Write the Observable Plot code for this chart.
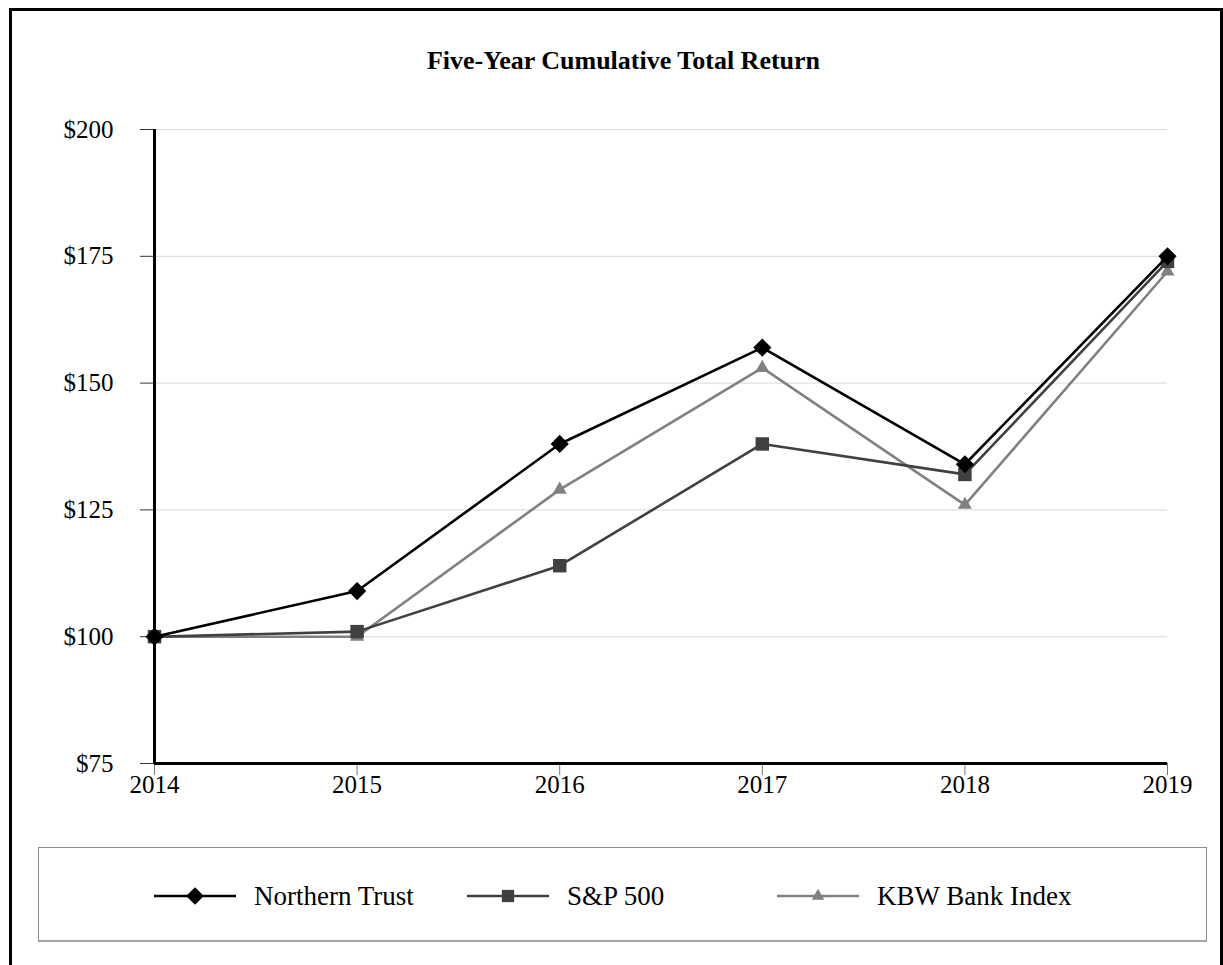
<!DOCTYPE html>
<html>
<head>
<meta charset="utf-8">
<script src="https://cdn.jsdelivr.net/npm/d3@7"></script>
<script src="https://cdn.jsdelivr.net/npm/@observablehq/plot@0.6"></script>
<style>
  html, body { margin: 0; padding: 0; background: #fff; overflow: hidden; }
  body { width: 1223px; height: 965px; position: relative; font-family: "Liberation Serif", "Times New Roman", serif; }
  #frame { position: absolute; left: 9px; top: 8px; width: 1214px; height: 980px; border: 3px solid #000; box-sizing: border-box; }
  #title { position: absolute; left: 12px; top: 46px; width: 1223px; text-align: center; font-weight: bold; font-size: 26px; color: #000; }
  #chart { position: absolute; left: 0; top: 0; }
  #legend { position: absolute; left: 38px; top: 847px; width: 1169px; height: 95px; border: 1px solid #8c8c8c; border-bottom: 2px solid #a6a6a6; box-sizing: border-box; }
  .item { position: absolute; top: 30px; height: 36px; display: flex; align-items: center; font-size: 27px; color: #000; }
  .item svg { margin-right: 18px; }
</style>
</head>
<body>
<div id="frame"></div>
<div id="title">Five-Year Cumulative Total Return</div>
<div id="chart"></div>
<div id="legend"></div>
<script>
const years = [2014, 2015, 2016, 2017, 2018, 2019];
const seriesNames = ["Northern Trust", "S&P 500", "KBW Bank Index"];
const northernTrust = [100, 109, 138, 157, 134, 175];
const sp500 = [100, 101, 114, 138, 132, 174];
const kbwBank = [100, 100, 129, 153, 126, 172];
const yTicks = [75, 100, 125, 150, 175, 200];

const colors = {"Northern Trust": "#000000", "S&P 500": "#404040", "KBW Bank Index": "#808080"};
const symbols = {"Northern Trust": "diamond2", "S&P 500": "square", "KBW Bank Index": "triangle"};
const radii = {"Northern Trust": 8.2, "S&P 500": 7.6, "KBW Bank Index": 5.2};

const valuesBySeries = {"Northern Trust": northernTrust, "S&P 500": sp500, "KBW Bank Index": kbwBank};
const table = [];
for (const s of seriesNames) {
  years.forEach((yr, i) => table.push({series: s, year: yr, value: valuesBySeries[s][i]}));
}

const drawOrder = ["KBW Bank Index", "S&P 500", "Northern Trust"];
const marks = [
  Plot.gridY(yTicks.filter(d => d > 75), {stroke: "#d9d9d9", strokeOpacity: 1, strokeWidth: 1}),
  Plot.axisY(yTicks, {tickSize: 14, tickPadding: 27, stroke: "#333", tickFormat: d => "$" + d, fontSize: 25, fill: "#000", label: null}),
  Plot.axisX(years, {tickSize: 12, tickPadding: 0, stroke: "#777", tickFormat: d => String(d), fontSize: 25, fill: "#000", label: null}),
  Plot.ruleY([75], {stroke: "#000", strokeWidth: 3}),
  Plot.ruleX([2014], {y1: 75, y2: 200, stroke: "#000", strokeWidth: 3})
];
for (const s of drawOrder) {
  const d = table.filter(r => r.series === s);
  marks.push(Plot.line(d, {x: "year", y: "value", stroke: colors[s], strokeWidth: 2.6}));
  marks.push(Plot.dot(d, {x: "year", y: "value", symbol: () => symbols[s], r: radii[s], fill: colors[s], stroke: "none"}));
}

const chart = Plot.plot({
  width: 1223,
  height: 810,
  marginLeft: 154,
  marginRight: 56,
  marginTop: 129,
  marginBottom: 47,
  style: {fontFamily: "'Liberation Serif', 'Times New Roman', serif", background: "transparent", overflow: "visible"},
  x: {type: "linear", domain: [2014, 2019], label: null},
  y: {domain: [75, 200], label: null},
  symbol: {type: "identity"},
  marks
});
document.getElementById("chart").appendChild(chart);

// Legend
const legendX = [154, 467, 777];
const legendSymbols = {"Northern Trust": d3.symbolDiamond2, "S&P 500": d3.symbolSquare, "KBW Bank Index": d3.symbolTriangle};
const legendSizes = {"Northern Trust": 200, "S&P 500": 150, "KBW Bank Index": 70};
const legend = d3.select("#legend");
seriesNames.forEach((s, i) => {
  const item = legend.append("div").attr("class", "item").style("left", (legendX[i] - 39) + "px");
  const svg = item.append("svg").attr("width", 82).attr("height", 30);
  svg.append("line").attr("x1", 0).attr("x2", 82).attr("y1", 15).attr("y2", 15)
    .attr("stroke", colors[s]).attr("stroke-width", 2.5);
  svg.append("path").attr("d", d3.symbol(legendSymbols[s], legendSizes[s])())
    .attr("transform", "translate(41,15)").attr("fill", colors[s]);
  item.append("span").text(s);
});
</script>
</body>
</html>
